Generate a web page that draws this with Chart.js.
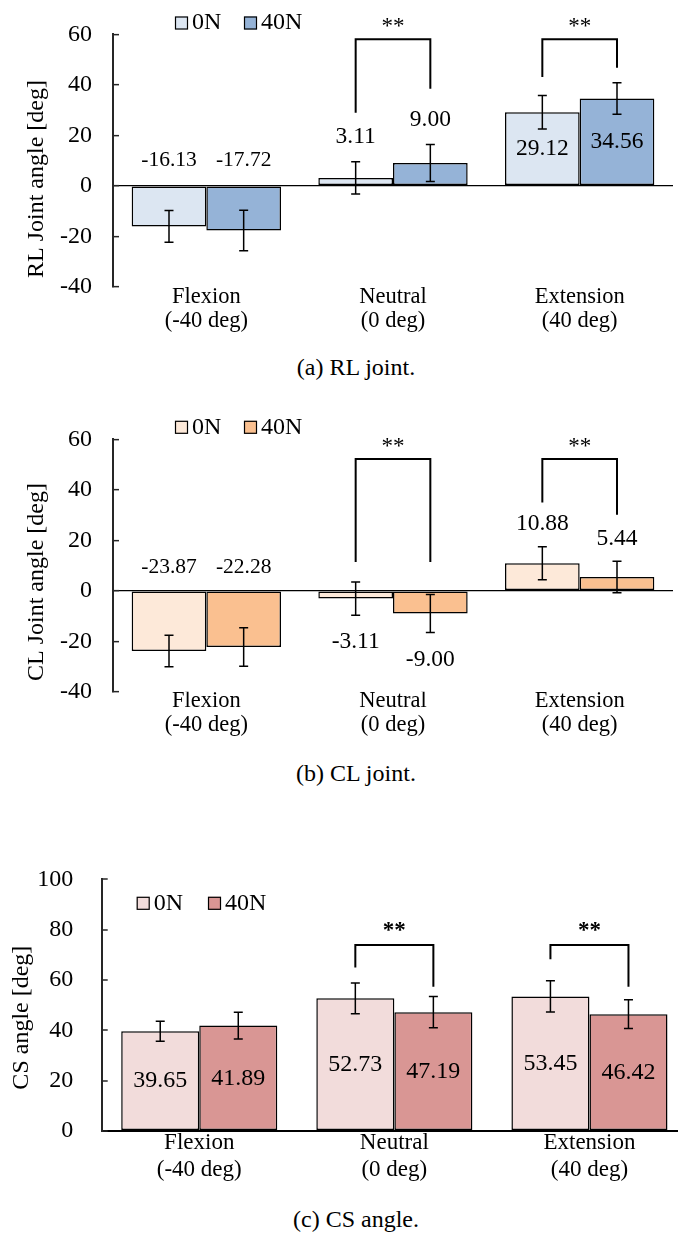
<!DOCTYPE html>
<html lang="en">
<head>
  <meta charset="UTF-8">
  <meta name="viewport" content="width=device-width, initial-scale=1.0">
  <title>Joint angles</title>

  <script src="https://cdn.jsdelivr.net/npm/chart.js"></script>

  <style>
    html, body {
      margin: 0;
      padding: 0;
      background: #fff;
      overflow: hidden;
    }

    body {
      width: 678px;
      height: 1235px;
      position: relative;
      font-family: 'Liberation Serif', 'Times New Roman', serif;
    }

    .panel {
      position: absolute;
      left: 0;
    }

    .caption {
      position: absolute;
      left: 0;
      width: 712px;
      text-align: center;
      font-size: 24px;
      line-height: 27px;
      color: #000;
    }
  </style>
</head>
<body>
  <div class="panel" style="top: 0px;"><canvas id="rlChart" width="678" height="340"></canvas></div>
  <div class="caption" style="top: 354px;">(a) RL joint.</div>

  <div class="panel" style="top: 390px;"><canvas id="clChart" width="678" height="350"></canvas></div>
  <div class="caption" style="top: 760px;">(b) CL joint.</div>

  <div class="panel" style="top: 840px;"><canvas id="csChart" width="692" height="350"></canvas></div>
  <div class="caption" style="top: 1206px;">(c) CS angle.</div>

  <script>
    const FONT = "'Liberation Serif', 'Times New Roman', serif";

    const categories = [['Flexion', '(-40 deg)'], ['Neutral', '(0 deg)'], ['Extension', '(40 deg)']];
    const seriesNames = ['0N', '40N'];

    // (a) RL joint
    const rl0N = [-16.13, 3.11, 29.12];
    const rl40N = [-17.72, 9.00, 34.56];
    const rl0NSd = [6.3, 6.4, 6.6];
    const rl40NSd = [8.0, 7.3, 6.2];

    // (b) CL joint
    const cl0N = [-23.87, -3.11, 10.88];
    const cl40N = [-22.28, -9.00, 5.44];
    const cl0NSd = [6.2, 6.6, 6.5];
    const cl40NSd = [7.6, 7.5, 6.2];

    // (c) CS angle
    const cs0N = [39.65, 52.73, 53.45];
    const cs40N = [41.89, 47.19, 46.42];
    const cs0NSd = [4.0, 6.1, 6.2];
    const cs40NSd = [5.3, 6.2, 5.7];

    const jointTicks = [-40, -20, 0, 20, 40, 60];
    const csTicks = [0, 20, 40, 60, 80, 100];

    // significance brackets (axis units): category, bar height, left / right leg ends
    const rlBrackets = [{ cat: 1, top: 58, left: 28.9, right: 38.4 }, { cat: 2, top: 58, left: 43.1, right: 46.7 }];
    const clBrackets = [{ cat: 1, top: 52.2, left: 11.4, right: 11.4 }, { cat: 2, top: 52.2, left: 35.0, right: 30.1 }];
    const csBrackets = [{ cat: 1, top: 73.9, left: 65.0, right: 57.3 }, { cat: 2, top: 73.9, left: 68.2, right: 57.3 }];

    Chart.defaults.font.family = FONT;
    Chart.defaults.color = '#000';

    // error bars, value labels, brackets, legend and axis title
    const figurePlugin = {
      id: 'figure',
      afterDatasetsDraw(chart, args, opts) {
        const ctx = chart.ctx;
        const area = chart.chartArea;
        const y = chart.scales.y;
        const zeroPx = y.getPixelForValue(0);
        ctx.save();
        ctx.strokeStyle = '#000';
        ctx.fillStyle = '#000';

        chart.data.datasets.forEach((ds, di) => {
          chart.getDatasetMeta(di).data.forEach((bar, i) => {
            const v = ds.data[i];
            const hi = y.getPixelForValue(v + ds.sd[i]);
            const lo = y.getPixelForValue(v - ds.sd[i]);
            ctx.lineWidth = 1.5;
            ctx.beginPath();
            ctx.moveTo(bar.x, hi);
            ctx.lineTo(bar.x, lo);
            ctx.moveTo(bar.x - opts.cap, hi);
            ctx.lineTo(bar.x + opts.cap, hi);
            ctx.moveTo(bar.x - opts.cap, lo);
            ctx.lineTo(bar.x + opts.cap, lo);
            ctx.stroke();

            let ty;
            const mode = opts.labelModes[i];
            if (mode === 'zero') ty = zeroPx - opts.zeroGap;
            else if (mode === 'aboveErr') ty = hi - opts.errGap;
            else if (mode === 'belowErr') ty = lo + opts.belowGap;
            else ty = (y.getPixelForValue(v) + zeroPx) / 2;
            ctx.font = opts.labelSizes[i] + 'px ' + FONT;
            ctx.textAlign = 'center';
            ctx.textBaseline = 'middle';
            ctx.fillText(v.toFixed(2), bar.x, ty);
          });
        });

        const m0 = chart.getDatasetMeta(0).data;
        const m1 = chart.getDatasetMeta(1).data;
        opts.brackets.forEach(b => {
          const x1 = m0[b.cat].x;
          const x2 = m1[b.cat].x;
          const yt = y.getPixelForValue(b.top);
          ctx.lineWidth = 2;
          ctx.beginPath();
          ctx.moveTo(x1, y.getPixelForValue(b.left));
          ctx.lineTo(x1, yt);
          ctx.lineTo(x2, yt);
          ctx.lineTo(x2, y.getPixelForValue(b.right));
          ctx.stroke();
          ctx.font = opts.starFont;
          ctx.textAlign = 'center';
          ctx.textBaseline = 'alphabetic';
          ctx.fillText('**', (x1 + x2) / 2, yt - opts.starGap);
        });

        opts.legendX.forEach((lx, di) => {
          const ds = chart.data.datasets[di];
          ctx.fillStyle = ds.backgroundColor;
          ctx.fillRect(lx, opts.legendY - 6.5, 13, 13);
          ctx.lineWidth = 1.2;
          ctx.strokeStyle = '#000';
          ctx.strokeRect(lx + 0.5, opts.legendY - 6, 12, 12);
          ctx.fillStyle = '#000';
          ctx.font = '24px ' + FONT;
          ctx.textAlign = 'left';
          ctx.textBaseline = 'middle';
          ctx.fillText(ds.label, lx + 17, opts.legendY);
        });

        ctx.translate(opts.titleX, (area.top + area.bottom) / 2 + opts.titleShift);
        ctx.rotate(-Math.PI / 2);
        ctx.font = '24px ' + FONT;
        ctx.textAlign = 'center';
        ctx.textBaseline = 'middle';
        ctx.fillText(opts.title, 0, 0);
        ctx.restore();
      }
    };

    function makeChart(id, cfg) {
      const canvas = document.getElementById(id);
      const W = canvas.width;
      const H = canvas.height;
      return new Chart(canvas, {
        type: 'bar',
        data: {
          labels: categories,
          datasets: [
            { label: seriesNames[0], data: cfg.v0, sd: cfg.sd0, backgroundColor: cfg.colors[0] },
            { label: seriesNames[1], data: cfg.v1, sd: cfg.sd1, backgroundColor: cfg.colors[1] }
          ]
        },
        options: {
          responsive: false,
          animation: false,
          events: [],
          layout: {
            autoPadding: false,
            padding: { top: cfg.area.top, right: W - cfg.area.right, left: 0, bottom: 0 }
          },
          datasets: {
            bar: {
              categoryPercentage: 0.8,
              barPercentage: 1,
              borderColor: '#000',
              borderWidth: 1.5,
              borderSkipped: false
            }
          },
          scales: {
            x: {
              grid: { display: false, drawTicks: false },
              border: { display: false },
              ticks: {
                color: '#000',
                font: { size: cfg.catSize, lineHeight: cfg.catLine },
                padding: cfg.xPad,
                maxRotation: 0,
                autoSkip: false
              },
              afterFit: s => { s.height = H - cfg.area.bottom; }
            },
            y: {
              min: cfg.ticks[0],
              max: cfg.ticks[cfg.ticks.length - 1],
              afterBuildTicks: s => { s.ticks = cfg.ticks.map(v => ({ value: v })); },
              grid: {
                drawOnChartArea: true,
                color: c => (c.tick && c.tick.value === 0 ? '#000' : 'rgba(0,0,0,0)'),
                lineWidth: cfg.zeroWidth,
                tickLength: -6,
                tickColor: '#262626',
                tickWidth: 1.5
              },
              border: { display: true, color: '#262626', width: 2 },
              ticks: { color: '#000', font: { size: 24 }, padding: cfg.yPad },
              afterFit: s => {
                s.width = cfg.area.left;
                s.paddingTop = 0;
                s.paddingBottom = 0;
              }
            }
          },
          plugins: {
            legend: { display: false },
            tooltip: { enabled: false },
            figure: cfg.figure
          }
        },
        plugins: [figurePlugin]
      });
    }

    makeChart('rlChart', {
      v0: rl0N, v1: rl40N, sd0: rl0NSd, sd1: rl40NSd,
      colors: ['#DCE6F2', '#95B3D7'],
      ticks: jointTicks,
      area: { left: 113, top: 34.3, right: 673, bottom: 286.7 },
      catSize: 22.5, catLine: 1.05, xPad: -1.5, yPad: 27, zeroWidth: 1.3,
      figure: {
        cap: 4.5,
        labelModes: ['zero', 'aboveErr', 'inside'],
        labelSizes: [21.5, 23.5, 23.5],
        zeroGap: 25.5, errGap: 24.5, belowGap: 27,
        brackets: rlBrackets,
        starFont: '23px ' + FONT, starGap: 6,
        legendX: [175, 244], legendY: 23,
        title: 'RL Joint angle [deg]', titleX: 37, titleShift: 18.5
      }
    });

    makeChart('clChart', {
      v0: cl0N, v1: cl40N, sd0: cl0NSd, sd1: cl40NSd,
      colors: ['#FDE9D9', '#FAC090'],
      ticks: jointTicks,
      area: { left: 113, top: 49.3, right: 673, bottom: 301.7 },
      catSize: 22.5, catLine: 1.05, xPad: -2.5, yPad: 27, zeroWidth: 1.3,
      figure: {
        cap: 4.5,
        labelModes: ['zero', 'belowErr', 'aboveErr'],
        labelSizes: [21.5, 23.5, 23.5],
        zeroGap: 23.5, errGap: 23, belowGap: 27,
        brackets: clBrackets,
        starFont: '23px ' + FONT, starGap: 6,
        legendX: [175, 244], legendY: 37.3,
        title: 'CL Joint angle [deg]', titleX: 37, titleShift: 16.5
      }
    });

    makeChart('csChart', {
      v0: cs0N, v1: cs40N, sd0: cs0NSd, sd1: cs40NSd,
      colors: ['#F2DCDB', '#D99694'],
      ticks: csTicks,
      area: { left: 101.7, top: 39.3, right: 687, bottom: 291 },
      catSize: 23, catLine: 1.16, xPad: -1, yPad: 34.4, zeroWidth: 2,
      figure: {
        cap: 4.5,
        labelModes: ['inside', 'inside', 'inside'],
        labelSizes: [24, 24, 24],
        zeroGap: 0, errGap: 0, belowGap: 0,
        brackets: csBrackets,
        starFont: 'bold 23px ' + FONT, starGap: 8,
        legendX: [136.7, 208], legendY: 63.3,
        title: 'CS angle [deg]', titleX: 22, titleShift: 12.5
      }
    });
  </script>
</body>
</html>
